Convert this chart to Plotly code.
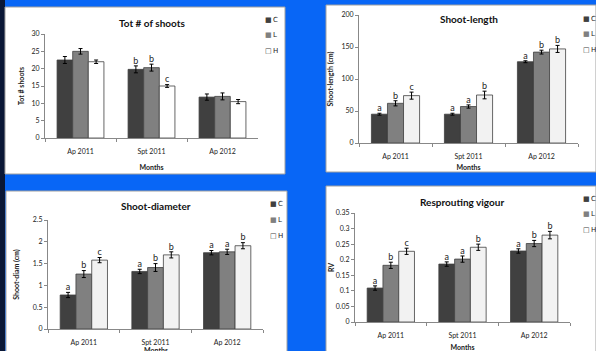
import plotly.graph_objects as go

W, H = 596, 351
months = ["Ap 2011", "Spt 2011", "Ap 2012"]
treatments = ["C", "L", "H"]

shoots_C = [22.5, 19.8, 11.8]
shoots_L = [25.0, 20.3, 12.0]
shoots_H = [22.0, 15.0, 10.5]
shoots_C_err = [1.0, 1.0, 0.9]
shoots_L_err = [0.8, 1.0, 1.0]
shoots_H_err = [0.5, 0.4, 0.6]
shoots_C_lab = ["", "b", ""]
shoots_L_lab = ["", "b", ""]
shoots_H_lab = ["", "c", ""]

length_C = [45, 45, 127]
length_L = [62, 57, 142]
length_H = [74, 75, 147]
length_C_err = [1.5, 1.5, 1.5]
length_L_err = [4, 2.5, 3]
length_H_err = [5.5, 6, 5.5]
length_C_lab = ["a", "a", "a"]
length_L_lab = ["b", "a", "b"]
length_H_lab = ["c", "b", "b"]

diam_C = [0.78, 1.32, 1.75]
diam_L = [1.26, 1.41, 1.77]
diam_H = [1.58, 1.70, 1.91]
diam_C_err = [0.06, 0.05, 0.05]
diam_L_err = [0.08, 0.09, 0.06]
diam_H_err = [0.06, 0.07, 0.07]
diam_C_lab = ["a", "a", "a"]
diam_L_lab = ["b", "b", "a"]
diam_H_lab = ["c", "b", "b"]

rv_C = [0.109, 0.186, 0.228]
rv_L = [0.182, 0.202, 0.252]
rv_H = [0.227, 0.240, 0.279]
rv_C_err = [0.007, 0.007, 0.007]
rv_L_err = [0.010, 0.010, 0.010]
rv_H_err = [0.010, 0.010, 0.012]
rv_C_lab = ["a", "a", "a"]
rv_L_lab = ["b", "a", "b"]
rv_H_lab = ["c", "b", "b"]

FONT = "Lato, 'Open Sans', sans-serif"
colors = {"C": "#404040", "L": "#808080", "H": "#f2f2f2"}
legend_glyph = {"C": ("■", "#404040"), "L": ("■", "#808080"), "H": ("□", "#404040")}

def px(x):
    return x / W

def py(y):
    return 1 - y / H

panels = [
    dict(title="Tot # of shoots", ytitle="Tot # shoots", rng=[0, 30], dtick=5,
         vals=[shoots_C, shoots_L, shoots_H], errs=[shoots_C_err, shoots_L_err, shoots_H_err],
         labs=[shoots_C_lab, shoots_L_lab, shoots_H_lab],
         box=(5, 7, 285, 174), plot=(45, 34, 258, 138), hcolor="#ffffff",
         titley=23, legx=264, legy=[20, 35, 51], xstand=10, ystand=6, xtitle_note=None),
    dict(title="Shoot-length", ytitle="Shoot-length (cm)", rng=[0, 200], dtick=50,
         vals=[length_C, length_L, length_H], errs=[length_C_err, length_L_err, length_H_err],
         labs=[length_C_lab, length_L_lab, length_H_lab],
         box=(326, 5, 596, 172), plot=(359, 15, 578, 143), hcolor="#f2f2f2",
         titley=19, legx=582, legy=[19, 34, 50], xstand=5, ystand=6, xtitle_note=None),
    dict(title="Shoot-diameter", ytitle="Shoot-diam (cm)", rng=[0, 2.5], dtick=0.5,
         vals=[diam_C, diam_L, diam_H], errs=[diam_C_err, diam_L_err, diam_H_err],
         labs=[diam_C_lab, diam_L_lab, diam_H_lab],
         box=(6, 191, 287, 360), plot=(48, 220, 263, 329), hcolor="#f2f2f2",
         titley=206, legx=269, legy=[204, 220, 236], xstand=13, ystand=12, xtitle_note=350),
    dict(title="Resprouting vigour", ytitle="RV", rng=[0, 0.35], dtick=0.05,
         vals=[rv_C, rv_L, rv_H], errs=[rv_C_err, rv_L_err, rv_H_err],
         labs=[rv_C_lab, rv_L_lab, rv_H_lab],
         box=(326, 186, 596, 360), plot=(355, 213, 570, 322), hcolor="#f2f2f2",
         titley=202, legx=582, legy=[199, 214, 230], xstand=9, ystand=0, xtitle_note=None),
]

fig = go.Figure()
shapes = [dict(type="rect", xref="paper", yref="paper", x0=0, x1=px(5), y0=0, y1=1,
               fillcolor="#0a1736", line=dict(width=0), layer="below")]
annotations = []
layout = {}

for i, p in enumerate(panels):
    n = "" if i == 0 else str(i + 1)
    xa, ya = "x" + n, "y" + n
    x0, y0, x1, y1 = p["box"]
    shapes.append(dict(type="rect", xref="paper", yref="paper",
                       x0=px(x0), x1=px(x1), y0=py(y1), y1=py(y0),
                       fillcolor="white", line=dict(color="#a0a0a0", width=1), layer="below"))
    pl, pt, pr, pb = p["plot"]
    for j, t in enumerate(treatments):
        col = colors[t] if t != "H" else p["hcolor"]
        fig.add_trace(go.Bar(
            x=months, y=p["vals"][j], name=t, marker=dict(color=col, line=dict(color="#404040", width=0.8)),
            error_y=dict(type="data", array=p["errs"][j], color="black", thickness=1, width=2),
            xaxis=xa, yaxis=ya, offsetgroup=t, alignmentgroup="g" + n,
            showlegend=False,
        ))
        tops = [v + e for v, e in zip(p["vals"][j], p["errs"][j])]
        fig.add_trace(go.Scatter(
            x=months, y=tops, text=p["labs"][j], mode="text", textposition="top center",
            textfont=dict(family=FONT, size=9, color="#222"), cliponaxis=False,
            xaxis=xa, yaxis=ya, offsetgroup=t, alignmentgroup="g" + n, showlegend=False,
            hoverinfo="skip",
        ))
        g, gc = legend_glyph[t]
        annotations.append(dict(
            text="<span style='color:%s'>%s</span>\u2009%s" % (gc, g, t), xref="paper", yref="paper",
            x=px(p["legx"]), y=py(p["legy"][j]), xanchor="left", yanchor="middle", showarrow=False,
            borderpad=0, font=dict(family="DejaVu Sans", size=7, color="#222")))
    xtitle_text = "<b>Months</b>" if p["xtitle_note"] is None else ""
    if p["xtitle_note"] is not None:
        annotations.append(dict(text="<b>Months</b>", xref="paper", yref="paper",
                                x=px((pl + pr) / 2), y=py(p["xtitle_note"]), xanchor="center",
                                yanchor="middle", showarrow=False,
                                font=dict(family=FONT, size=7, color="#222")))
    layout["xaxis" + n] = dict(domain=[px(pl), px(pr)], anchor=ya, type="category",
                               showline=True, linecolor="#888", linewidth=1, automargin=False,
                               ticks="outside", tickson="boundaries", ticklen=3, tickcolor="#888",
                               ticklabelstandoff=7,
                               tickfont=dict(family=FONT, size=7, color="#222"),
                               title=dict(text=xtitle_text, font=dict(family=FONT, size=7, color="#222"),
                                          standoff=p["xstand"]),
                               showgrid=False)
    layout["yaxis" + n] = dict(domain=[py(pb), py(pt)], anchor=xa, range=p["rng"], dtick=p["dtick"],
                               showline=True, linecolor="#888", linewidth=1, automargin=False,
                               ticks="outside", ticklen=3, tickcolor="#888",
                               tickfont=dict(family=FONT, size=7, color="#222"),
                               title=dict(text="<b>" + p["ytitle"] + "</b>",
                                          font=dict(family=FONT, size=7, color="#222"), standoff=p["ystand"]),
                               showgrid=False, zeroline=False)
    annotations.append(dict(text="<b>" + p["title"] + "</b>", xref="paper", yref="paper",
                            x=px((pl + pr) / 2), y=py(p["titley"]), xanchor="center", yanchor="middle",
                            showarrow=False, font=dict(family=FONT, size=10, color="#111")))

fig.update_layout(
    width=W, height=H, margin=dict(l=0, r=0, t=0, b=0, autoexpand=False),
    paper_bgcolor="#0866f6", plot_bgcolor="white", showlegend=False,
    barmode="group", bargap=0.34, bargroupgap=0, scattermode="group", scattergap=0.34,
    shapes=shapes, annotations=annotations, **layout,
)
fig.write_html("out.html", config={"displayModeBar": False},
               post_script="document.body.style.margin='0';document.body.style.overflow='hidden';")
